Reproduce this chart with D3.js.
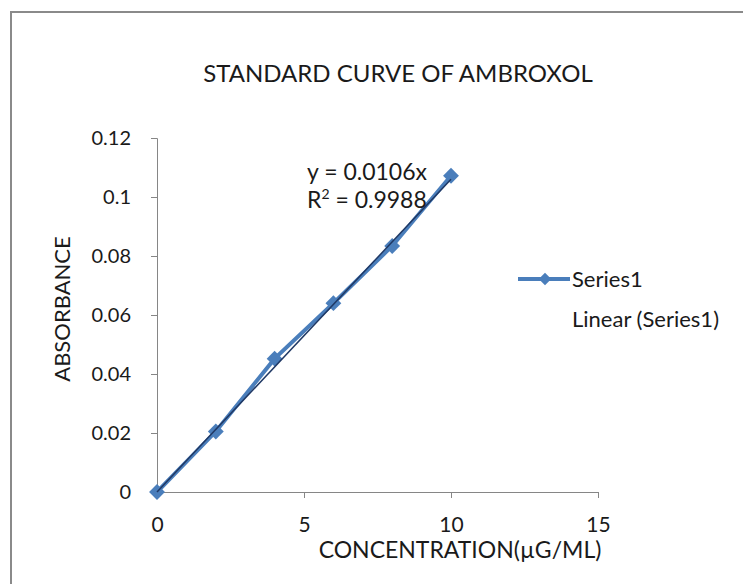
<!DOCTYPE html>
<html>
<head>
<meta charset="utf-8">
<script src="https://cdn.jsdelivr.net/npm/d3@7"></script>
<style>
    body { margin: 0; background: #fff; }
    text { font-family: Lato, "Open Sans", sans-serif; fill: #1a1a1a; }
</style>
</head>
<body>
<div class="svg-container"></div>
<script>
// Chart data.
const concentration = [0, 2, 4, 6, 8, 10];
const absorbance = [0, 0.0205, 0.0452, 0.064, 0.0834, 0.1072];
const slope = 0.0106;
const rSquared = "0.9988";
const xTicks = [0, 5, 10, 15];
const yTicks = [0, 0.02, 0.04, 0.06, 0.08, 0.1, 0.12];
const chartTitle = "STANDARD CURVE OF AMBROXOL";
const xTitle = "CONCENTRATION(\u00b5G/ML)";
const yTitle = "ABSORBANCE";
const seriesName = "Series1";
const trendName = "Linear (Series1)";

const WIDTH = 743;
const HEIGHT = 584;
const AXIS_COLOR = "#868686";
const SERIES_COLOR = "#4A7EBB";
const TREND_COLOR = "#1F3864";

const svg = d3
    .select(".svg-container")
    .append("svg")
    .attr("width", WIDTH)
    .attr("height", HEIGHT);

// Chart frame, runs off the right and bottom edges.
svg.append("rect")
    .attr("x", 11)
    .attr("y", 12)
    .attr("width", 900)
    .attr("height", 900)
    .attr("fill", "#fff")
    .attr("stroke", "#8a8a8a")
    .attr("stroke-width", 2);

const x = d3.scaleLinear().domain([0, 15]).range([157, 598]);
const y = d3.scaleLinear().domain([0, 0.12]).range([492, 138]);

svg.append("text")
    .attr("x", 398)
    .attr("y", 82)
    .attr("text-anchor", "middle")
    .attr("font-size", 24)
    .text(chartTitle);

// Axes.
const xAxis = svg.append("g")
    .attr("transform", "translate(0," + y(0) + ")")
    .call(d3.axisBottom(x).tickValues(xTicks).tickSize(6).tickPadding(19).tickFormat(d3.format("d")));
const yAxis = svg.append("g")
    .attr("transform", "translate(" + x(0) + ",0)")
    .call(d3.axisLeft(y).tickValues(yTicks).tickSize(6).tickPadding(20).tickFormat((d) => (d === 0 ? "0" : String(+d.toFixed(2)))));

[xAxis, yAxis].forEach((axis) => {
    axis.select(".domain").attr("stroke", AXIS_COLOR);
    axis.selectAll(".tick line").attr("stroke", AXIS_COLOR);
    axis.selectAll("text").attr("font-size", 20).attr("fill", "#1a1a1a").attr("font-family", null);
});
xAxis.selectAll("text").attr("font-size", 21);
xAxis.selectAll(".tick").filter((d) => d === 0).select("line").remove();
yAxis.selectAll(".tick").filter((d) => d === 0).select("line").remove();

// Axis titles; the x title box hides the lower edge of the tick labels.
svg.append("rect")
    .attr("x", 140)
    .attr("y", 533)
    .attr("width", 480)
    .attr("height", 40)
    .attr("fill", "#fff");
svg.append("text")
    .attr("x", 460)
    .attr("y", 558)
    .attr("text-anchor", "middle")
    .attr("font-size", 23)
    .text(xTitle);
svg.append("text")
    .attr("transform", "translate(70,309) rotate(-90)")
    .attr("text-anchor", "middle")
    .attr("font-size", 22)
    .text(yTitle);

// Data series with diamond markers.
const points = concentration.map((c, i) => ({ c: c, a: absorbance[i] }));
const diamond = d3.symbol().type(d3.symbolDiamond2).size(160);

svg.append("path")
    .datum(points)
    .attr("fill", "none")
    .attr("stroke", SERIES_COLOR)
    .attr("stroke-width", 4)
    .attr("d", d3.line().x((d) => x(d.c)).y((d) => y(d.a)));

svg.append("g")
    .selectAll("path")
    .data(points)
    .join("path")
    .attr("transform", (d) => "translate(" + x(d.c) + "," + y(d.a) + ")")
    .attr("d", diamond)
    .attr("fill", SERIES_COLOR);

// Linear trendline through origin.
const trendX = d3.extent(concentration);
svg.append("path")
    .datum(trendX)
    .attr("fill", "none")
    .attr("stroke", TREND_COLOR)
    .attr("stroke-width", 1.5)
    .attr("d", d3.line().x((d) => x(d)).y((d) => y(slope * d)));

const eq = svg.append("g").attr("font-size", 23);
eq.append("text").attr("x", 307).attr("y", 180).text("y = " + slope + "x");
const r2 = eq.append("text").attr("x", 307).attr("y", 208);
r2.append("tspan").text("R");
r2.append("tspan").attr("font-size", 14).attr("dy", -9).text("2");
r2.append("tspan").attr("dy", 9).text(" = " + rSquared);

// Legend.
const legend = svg.append("g");
legend.append("line")
    .attr("x1", 518).attr("x2", 570)
    .attr("y1", 279).attr("y2", 279)
    .attr("stroke", SERIES_COLOR)
    .attr("stroke-width", 4);
legend.append("path")
    .attr("transform", "translate(545,279)")
    .attr("d", d3.symbol().type(d3.symbolDiamond2).size(100))
    .attr("fill", SERIES_COLOR);
legend.append("text").attr("x", 572).attr("y", 287).attr("font-size", 22).text(seriesName);
legend.append("text").attr("x", 572).attr("y", 327).attr("font-size", 22).text(trendName);
</script>
</body>
</html>
